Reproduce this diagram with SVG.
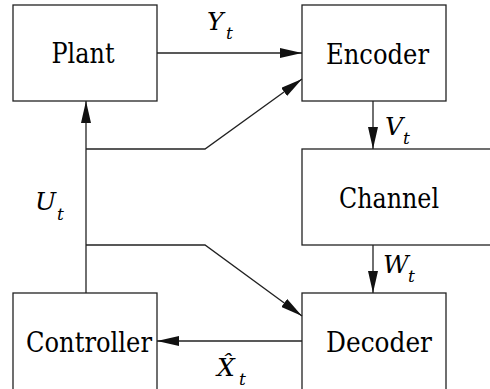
<svg xmlns="http://www.w3.org/2000/svg" width="490" height="389" viewBox="0 0 490 389">
<style>
.box{fill:#fff;stroke:#222;stroke-width:1.3}
.lbl{font-family:"DejaVu Serif",serif;font-size:27px;fill:#000;text-anchor:middle}
.m{font-family:"DejaVu Serif",serif;font-style:italic;font-size:25px;fill:#000}
.s{font-size:17px}
.c{fill:none;stroke:#222;stroke-width:1.3}
</style>
<defs>
<marker id="ah" markerUnits="userSpaceOnUse" markerWidth="22" markerHeight="10" refX="22" refY="5" orient="auto" viewBox="0 0 22 10">
<path d="M0,0 L22,5 L0,10 Z" fill="#111"/>
</marker>
</defs>
<rect width="490" height="389" fill="#fff"/>
<g id="plant"><rect class="box" x="13" y="5" width="144" height="96"/><text class="lbl" x="83" y="63" textLength="63" lengthAdjust="spacingAndGlyphs">Plant</text></g>
<g id="encoder"><rect class="box" x="302" y="5" width="144" height="96"/><text class="lbl" x="377.5" y="64" textLength="103" lengthAdjust="spacingAndGlyphs">Encoder</text></g>
<g id="channel"><rect class="box" x="302" y="149" width="200" height="96"/><text class="lbl" x="389" y="208" textLength="100" lengthAdjust="spacingAndGlyphs">Channel</text></g>
<g id="decoder"><rect class="box" x="302" y="293" width="144" height="97"/><text class="lbl" x="379" y="352" textLength="106" lengthAdjust="spacingAndGlyphs">Decoder</text></g>
<g id="controller"><rect class="box" x="13" y="293" width="144" height="97"/><text class="lbl" x="89" y="352" textLength="126" lengthAdjust="spacingAndGlyphs">Controller</text></g>
<g id="connectors">
<path class="c" d="M157,53 H302" marker-end="url(#ah)"/>
<path class="c" d="M86,293 V101" marker-end="url(#ah)"/>
<path class="c" d="M86,149 H205 L302,79" marker-end="url(#ah)"/>
<path class="c" d="M86,245 H205 L302,316" marker-end="url(#ah)"/>
<path class="c" d="M373,101 V149" marker-end="url(#ah)"/>
<path class="c" d="M373,245 V293" marker-end="url(#ah)"/>
<path class="c" d="M302,341 H157" marker-end="url(#ah)"/>
</g>
<g id="labels">
<text class="m" x="207" y="30">Y<tspan class="s" x="226" y="39">t</tspan></text>
<text class="m" x="35" y="210">U<tspan class="s" x="57" y="220">t</tspan></text>
<text class="m" x="385" y="135">V<tspan class="s" x="403" y="144">t</tspan></text>
<text class="m" x="383" y="273">W<tspan class="s" x="408" y="282">t</tspan></text>
<text class="m" x="217" y="376">X̂<tspan class="s" x="239" y="385">t</tspan></text>
</g>
</svg>
